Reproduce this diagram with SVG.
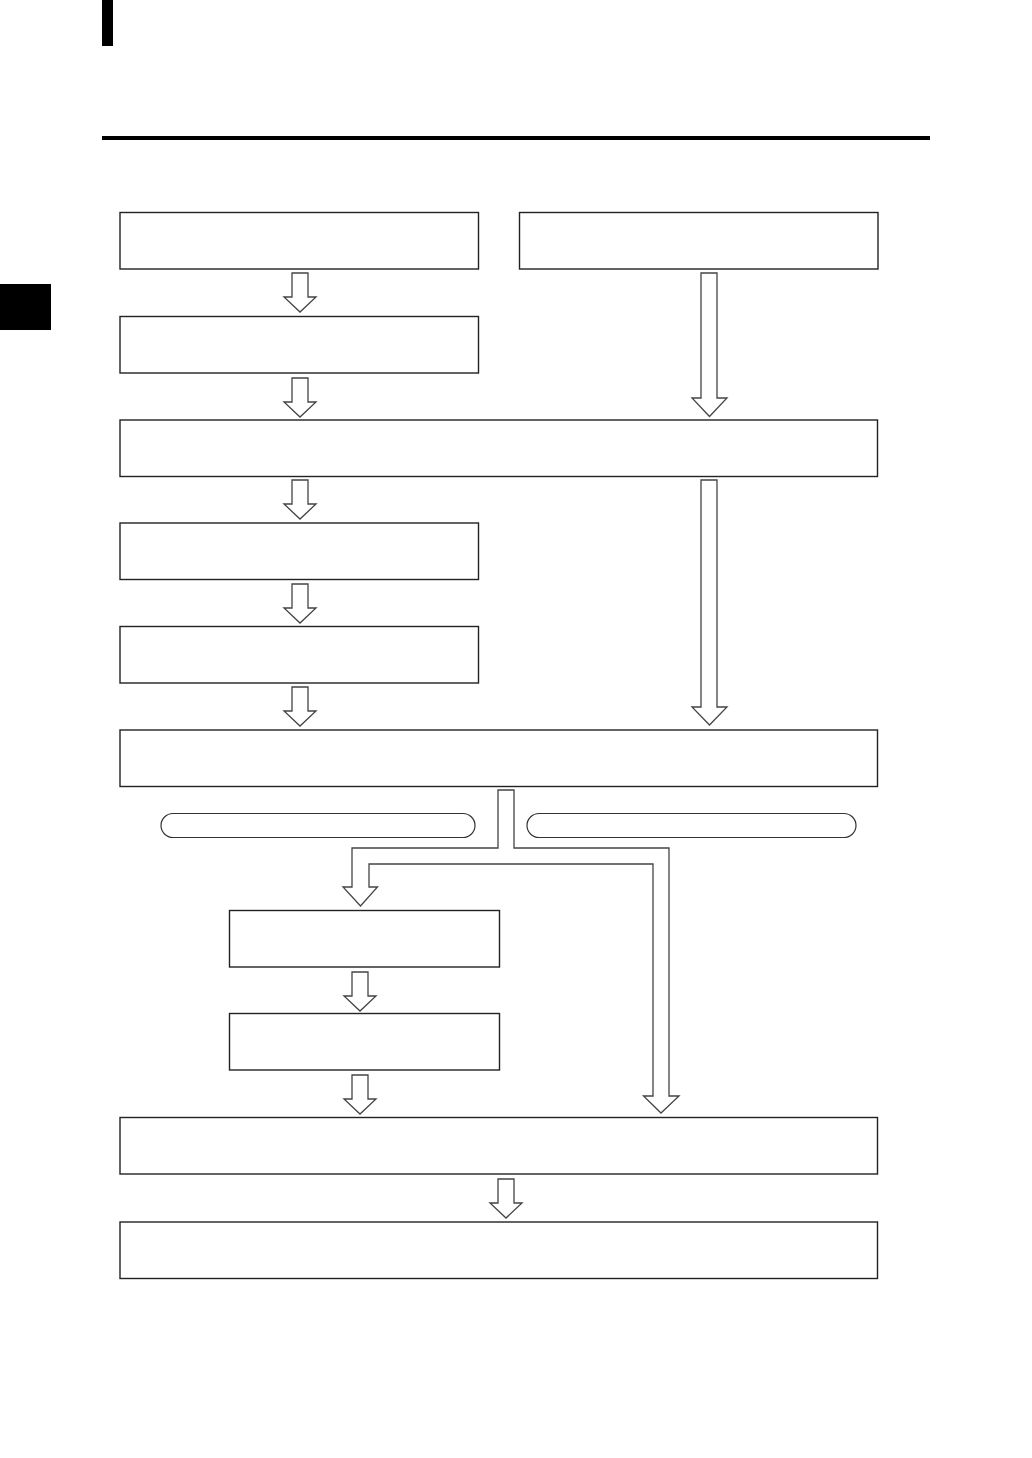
<svg xmlns="http://www.w3.org/2000/svg" width="1032" height="1458" viewBox="0 0 1032 1458">
<style>
.box{fill:#fff;stroke:#222;stroke-width:1.4}
.pill{fill:#fff;stroke:#333;stroke-width:1.2}
.arr{fill:#fff;stroke:#444;stroke-width:1.3;stroke-linejoin:miter}
</style>
<defs>
<path id="a" d="M-8,0 H8 V24 H16 L0,39 L-16,24 H-8 Z"/>
</defs>
<rect width="1032" height="1458" fill="#fff"/>
<g id="header">
<rect x="102" y="0" width="11" height="46" fill="#000"/>
<rect x="102" y="136" width="828" height="4" fill="#000"/>
<rect x="0" y="284" width="51" height="46" fill="#000"/>
</g>
<g id="n1"><rect class="box" x="120" y="212.5" width="358.5" height="56.5"/></g>
<g id="n2"><rect class="box" x="519.5" y="212.5" width="358.5" height="56.5"/></g>
<g id="n3"><rect class="box" x="120" y="316.5" width="358.5" height="56.5"/></g>
<g id="n4"><rect class="box" x="120" y="420" width="757.5" height="56.5"/></g>
<g id="n5"><rect class="box" x="120" y="523" width="358.5" height="56.5"/></g>
<g id="n6"><rect class="box" x="120" y="626.5" width="358.5" height="56.5"/></g>
<g id="n7"><rect class="box" x="120" y="730" width="757.5" height="56.5"/></g>
<g id="p1"><rect class="pill" x="161" y="813.5" width="314" height="24" rx="12"/></g>
<g id="p2"><rect class="pill" x="527" y="813.5" width="329" height="24" rx="12"/></g>
<g id="n8"><rect class="box" x="229.5" y="910.5" width="270" height="56.5"/></g>
<g id="n9"><rect class="box" x="229.5" y="1013.5" width="270" height="56.5"/></g>
<g id="n10"><rect class="box" x="120" y="1117.5" width="757.5" height="56.5"/></g>
<g id="n11"><rect class="box" x="120" y="1222" width="757.5" height="56.5"/></g>
<g id="connectors">
<use href="#a" class="arr" transform="translate(300,273)"/>
<use href="#a" class="arr" transform="translate(300,378) scale(1,1)"/>
<use href="#a" class="arr" transform="translate(300,480)"/>
<use href="#a" class="arr" transform="translate(300,584)"/>
<use href="#a" class="arr" transform="translate(300,687)"/>
<path class="arr" d="M701,273 H717 V398 H727 L709.5,416.5 L692,398 H701 Z"/>
<path class="arr" d="M701,480 H717 V707 H727 L709.5,725 L692,707 H701 Z"/>
<path class="arr" d="M498,790 H514 V848 H669 V1096 H679 L661,1113 L643.5,1096 H653 V864 H369 V887 H377.5 L360.5,906 L343,887 H352 V848 H498 Z"/>
<use href="#a" class="arr" transform="translate(360,972)"/>
<use href="#a" class="arr" transform="translate(360,1075)"/>
<use href="#a" class="arr" transform="translate(506,1179)"/>
</g>
</svg>
